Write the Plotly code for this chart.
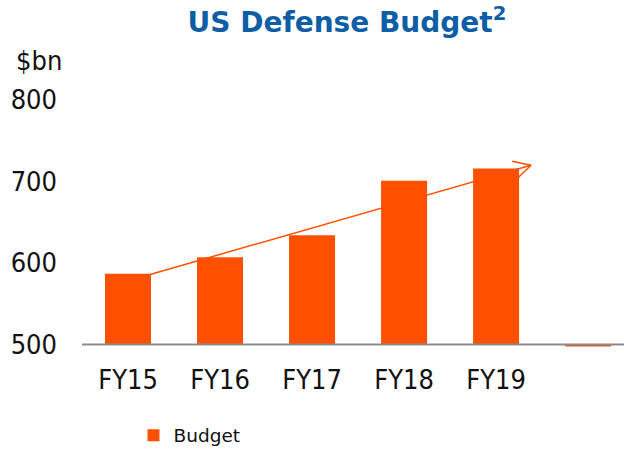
import plotly.graph_objects as go

# Annual US defense budget, $bn
years = ["FY15", "FY16", "FY17", "FY18", "FY19"]
budget = [587, 607, 634, 701, 716]
# the trailing slot holds an empty placeholder bar that sits just under the axis floor
placeholder = [497.5]

axis_floor = 500
y_range = [497, 800]
y_ticks = [500, 600, 700, 800]

# rising-trend arrow, anchored on the category axis and the $bn scale
trend_start = (0.24, 586)
trend_end = (4.38, 720)

ORANGE = "#ff5000"
BLUE = "#0d5ea6"
GREY = "#8c8c8c"
TICK_FONT = "DejaVu Sans Condensed, Liberation Sans Narrow, sans-serif"
TICK_SIZE = 27

values = budget + placeholder
x_pos = list(range(len(values)))

# vertical scale: 800 sits 100px from the top, 500 at 345px
TOP = 100
PX_PER_UNIT = 245 / 300
plot_h = (y_range[1] - y_range[0]) * PX_PER_UNIT
bottom_margin = 452 - TOP - plot_h

fig = go.Figure()
fig.add_trace(go.Bar(
    x=x_pos,
    y=[v - axis_floor for v in values],
    base=axis_floor,
    width=0.5,
    marker=dict(color=ORANGE, line=dict(width=0)),
    name="Budget",
    customdata=values,
    hovertemplate="%{customdata}<extra></extra>",
    showlegend=True,
))

# baseline at the axis floor, across the full plot width
fig.add_shape(type="line", layer="above", xref="paper", yref="y",
              x0=0, x1=1, y0=axis_floor, y1=axis_floor,
              line=dict(color=GREY, width=2))

# trend line and its open arrowhead, kept behind the bars
fig.add_shape(type="line", layer="below",
              x0=trend_start[0], y0=trend_start[1], x1=trend_end[0], y1=trend_end[1],
              line=dict(color=ORANGE, width=1.5))
for dx, dy in [(-19, 4), (-14, -13.5)]:
    fig.add_shape(type="line", layer="below",
                  xsizemode="pixel", ysizemode="pixel",
                  xanchor=trend_end[0], yanchor=trend_end[1],
                  x0=0, y0=0, x1=dx, y1=dy,
                  line=dict(color=ORANGE, width=1.5))

fig.add_annotation(text="$bn", xref="paper", yref="paper",
                   x=-0.126, y=(347.45 - 60) / plot_h, xanchor="left", yanchor="middle",
                   showarrow=False, font=dict(family=TICK_FONT, size=TICK_SIZE, color="#111111"))

fig.update_layout(
    width=624, height=452,
    margin=dict(l=82, r=0, t=TOP, b=bottom_margin, autoexpand=False),
    paper_bgcolor="white", plot_bgcolor="white",
    title=dict(text="US Defense Budget<sup>2</sup>",
               x=347 / 624, xanchor="center", xref="container",
               y=1 - 22 / 452, yanchor="middle", yref="container",
               font=dict(family="DejaVu Sans, Verdana, sans-serif", size=28,
                         color=BLUE, weight="bold")),
    bargap=0.5,
    showlegend=True,
    legend=dict(orientation="h", x=0.095, y=-(440 - 345) / plot_h + 0.102, xanchor="left",
                yanchor="top",
                font=dict(family="DejaVu Sans, Verdana, sans-serif", size=18.5, color="#111111"),
                itemwidth=30, bgcolor="rgba(0,0,0,0)"),
)
fig.update_xaxes(
    range=[-0.5, 5.39], automargin=False,
    tickvals=list(range(len(years))), ticktext=years,
    showgrid=False, zeroline=False, showline=False,
    ticks="", ticklabelstandoff=14,
    tickfont=dict(family=TICK_FONT, size=TICK_SIZE, color="#111111"),
)
fig.update_yaxes(
    range=y_range, tickvals=y_ticks, automargin=False,
    showgrid=False, zeroline=False, showline=False,
    ticks="", ticklabelstandoff=24,
    tickfont=dict(family=TICK_FONT, size=TICK_SIZE, color="#111111"),
)

fig.write_html("out.html")
